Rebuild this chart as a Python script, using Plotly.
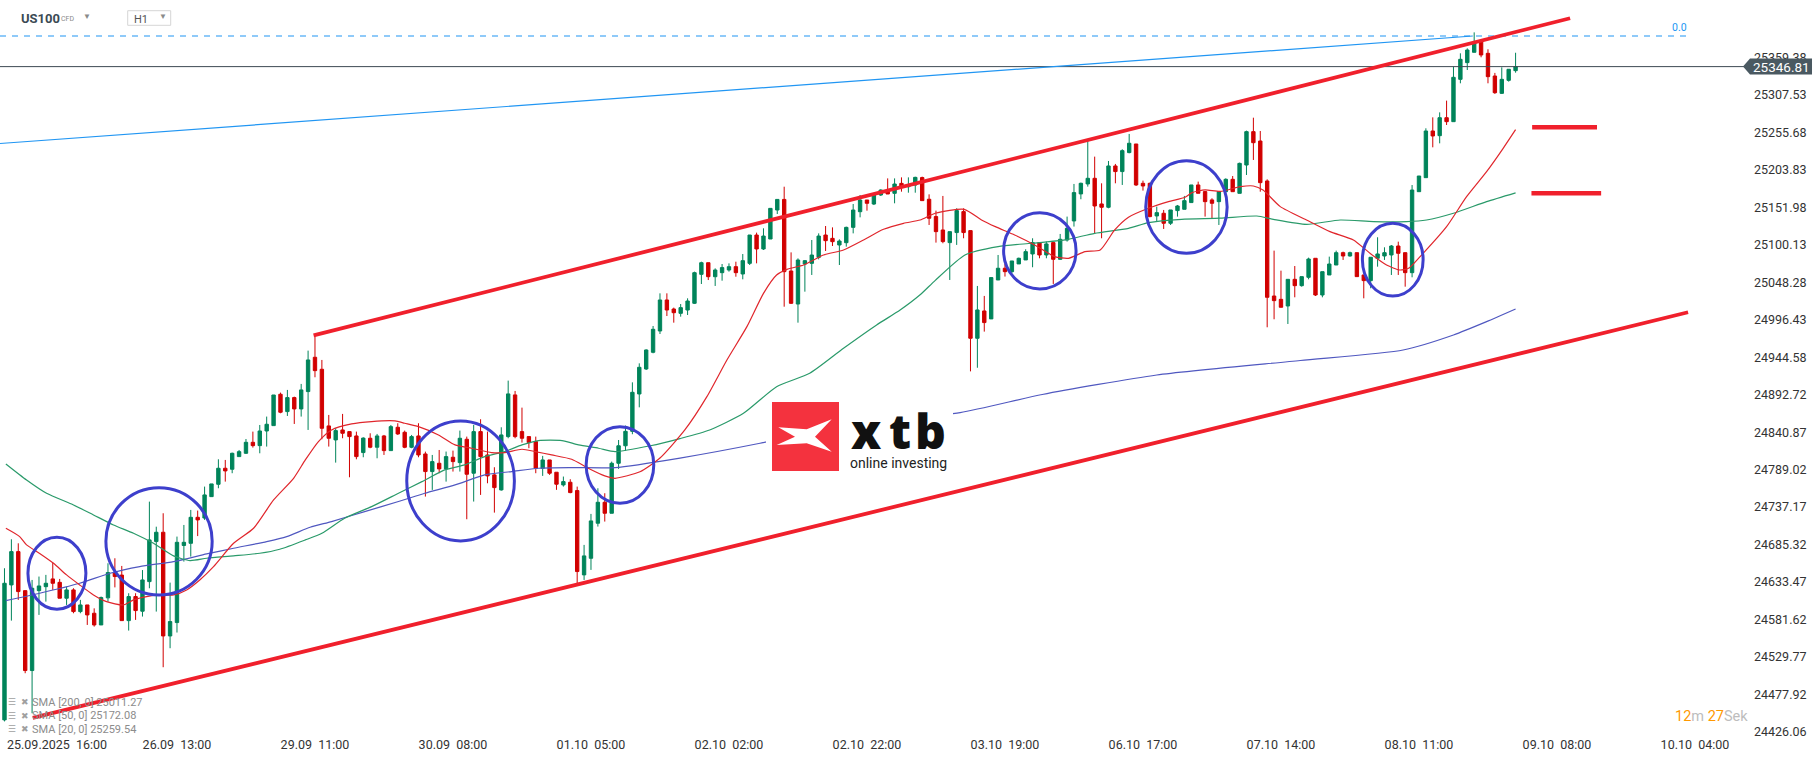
import plotly.graph_objects as go

# ---------------- data (hourly bars, index 0 = 25.09.2025 16:00) ----------------
bar_index = list(range(-5, 215))
opens = [24442.6, 24629.4, 24675.5, 24621.5, 24510.9,
         24621.5, 24627.0, 24637.7, 24633.0, 24611.0, 24622.5, 24592.5, 24601.7, 24590.2, 24574.0,
         24611.5, 24646.5, 24643.0, 24580.0, 24613.3, 24593.0, 24634.0, 24689.4, 24702.3, 24558.8,
         24577.3, 24684.0, 24687.0, 24723.0, 24722.0, 24751.6, 24768.7, 24790.9, 24789.5, 24807.0,
         24811.6, 24826.8, 24822.2, 24842.5, 24849.9, 24893.3, 24869.3, 24888.7, 24873.0, 24897.0,
         24944.5, 24927.9, 24849.5, 24830.1, 24843.9, 24841.6, 24835.6, 24812.6, 24832.4, 24820.0,
         24835.6, 24815.3, 24847.6, 24840.7, 24819.9, 24835.6, 24810.7, 24786.3, 24797.8, 24790.0,
         24806.1, 24798.7, 24831.0, 24784.0, 24841.6, 24809.3, 24781.7, 24760.9, 24834.7, 24892.4,
         24841.6, 24834.7, 24827.8, 24790.9, 24802.4, 24785.4, 24767.8, 24771.5, 24760.0, 24643.3,
         24666.3, 24714.8, 24743.8, 24728.6, 24797.8, 24822.0, 24842.0, 24893.7, 24928.3, 24951.4,
         24980.9, 25023.8, 25011.3, 25005.3, 25009.9, 25019.2, 25059.3, 25075.4, 25056.0, 25061.6,
         25065.3, 25069.9, 25059.8, 25074.5, 25113.7, 25094.4, 25108.2, 25148.3, 25163.0, 25063.9,
         25018.2, 25073.6, 25074.5, 25082.8, 25113.7, 25109.1, 25099.9, 25103.1, 25124.3, 25146.0,
         25162.2, 25156.6, 25169.1, 25176.0, 25171.4, 25185.2, 25180.6, 25182.9, 25193.2, 25163.2,
         25139.2, 25120.7, 25103.2, 25117.1, 25146.1, 25119.8, 24970.8, 25008.6, 24997.6, 25051.5,
         25067.7, 25063.0, 25073.7, 25079.2, 25087.5, 25103.2, 25086.1, 25103.2, 25080.1, 25106.8,
         25133.2, 25170.6, 25184.4, 25192.2, 25156.7, 25152.1, 25209.3, 25201.5, 25227.8, 25239.7,
         25185.3, 25185.3, 25140.1, 25143.8, 25130.0, 25147.5, 25149.3, 25158.6, 25183.0, 25173.8,
         25162.3, 25159.9, 25173.7, 25190.8, 25171.4, 25210.6, 25256.8, 25243.8, 25188.5, 25029.3,
         25024.7, 25015.5, 25052.4, 25043.6, 25055.2, 25081.5, 25030.7, 25058.4, 25072.2, 25089.3,
         25084.7, 25089.3, 25058.4, 25050.6, 25081.5, 25084.7, 25086.1, 25098.5, 25089.3, 25061.6,
         25173.7, 25193.1, 25257.7, 25251.2, 25276.1, 25270.6, 25329.2, 25352.3, 25366.6, 25381.3,
         25365.2, 25333.8, 25309.8, 25327.8, 25341.2]
highs = [24652.5, 24692.6, 24687.0, 24621.5, 24636.3,
         24641.0, 24643.3, 24660.3, 24637.7, 24627.0, 24624.8, 24608.7, 24601.7, 24597.0, 24613.3,
         24659.4, 24666.3, 24655.7, 24617.9, 24617.9, 24650.0, 24744.7, 24710.0, 24728.6, 24632.6,
         24696.3, 24712.4, 24733.2, 24732.3, 24765.5, 24769.2, 24803.3, 24802.4, 24812.5, 24816.2,
         24831.4, 24841.6, 24850.8, 24862.4, 24892.3, 24895.6, 24899.3, 24890.0, 24907.6, 24953.7,
         24974.0, 24940.8, 24864.7, 24846.2, 24866.1, 24841.6, 24841.6, 24833.8, 24839.3, 24838.4,
         24837.0, 24850.8, 24853.2, 24843.0, 24837.0, 24853.2, 24813.9, 24809.3, 24816.2, 24814.0,
         24815.3, 24843.0, 24834.7, 24850.8, 24858.7, 24841.6, 24792.3, 24847.6, 24912.2, 24897.9,
         24874.8, 24834.7, 24834.7, 24808.0, 24802.4, 24785.4, 24779.4, 24775.7, 24765.5, 24684.8,
         24727.7, 24763.2, 24756.3, 24800.1, 24830.0, 24850.0, 24909.8, 24936.1, 24955.5, 24987.8,
         25033.0, 25033.0, 25013.2, 25018.2, 25026.1, 25063.0, 25076.8, 25075.4, 25067.6, 25073.6,
         25074.5, 25076.8, 25087.4, 25113.7, 25117.0, 25123.0, 25150.6, 25163.0, 25180.6, 25089.7,
         25081.4, 25079.1, 25106.8, 25116.0, 25126.2, 25124.3, 25107.7, 25125.3, 25156.6, 25169.1,
         25162.2, 25171.4, 25177.0, 25192.1, 25192.1, 25193.5, 25193.5, 25194.4, 25194.5, 25170.0,
         25147.5, 25167.8, 25118.4, 25150.7, 25150.7, 25119.8, 25043.2, 25029.4, 25054.8, 25086.1,
         25073.7, 25077.8, 25082.4, 25094.0, 25109.2, 25103.2, 25104.6, 25103.2, 25115.2, 25139.2,
         25184.4, 25186.2, 25244.4, 25222.2, 25185.3, 25216.2, 25212.1, 25232.4, 25253.6, 25239.7,
         25189.0, 25186.2, 25153.0, 25148.4, 25148.4, 25155.3, 25167.8, 25183.0, 25187.6, 25174.7,
         25164.6, 25174.7, 25192.2, 25195.4, 25213.9, 25258.2, 25276.1, 25257.7, 25190.8, 25092.1,
         25064.4, 25052.4, 25070.8, 25056.1, 25082.4, 25081.5, 25063.0, 25083.8, 25092.1, 25090.7,
         25090.7, 25089.3, 25058.4, 25082.9, 25110.6, 25096.7, 25099.9, 25104.5, 25089.3, 25182.9,
         25195.4, 25261.4, 25276.6, 25283.5, 25299.7, 25346.7, 25365.2, 25372.1, 25394.2, 25383.0,
         25370.8, 25338.1, 25345.8, 25343.1, 25366.0]
lows = [24440.5, 24580.0, 24608.7, 24507.2, 24451.8,
        24587.9, 24606.3, 24622.5, 24611.0, 24601.7, 24590.2, 24590.2, 24574.0, 24571.7, 24574.0,
        24606.3, 24626.0, 24580.0, 24566.2, 24581.0, 24585.6, 24624.8, 24592.5, 24515.5, 24541.8,
        24563.5, 24661.7, 24668.6, 24697.0, 24719.4, 24751.6, 24763.2, 24772.4, 24784.0, 24807.0,
        24810.7, 24819.5, 24811.6, 24820.9, 24849.9, 24867.0, 24863.3, 24852.2, 24862.4, 24843.9,
        24916.8, 24831.0, 24820.9, 24798.7, 24832.4, 24778.4, 24803.3, 24806.1, 24818.6, 24804.7,
        24809.3, 24815.3, 24837.0, 24818.6, 24818.6, 24806.1, 24751.7, 24760.9, 24784.0, 24772.4,
        24786.3, 24786.3, 24720.3, 24744.8, 24754.0, 24770.1, 24729.5, 24759.9, 24832.4, 24832.4,
        24826.4, 24818.6, 24784.0, 24780.3, 24781.7, 24761.0, 24765.5, 24756.3, 24631.7, 24636.3,
        24650.2, 24710.2, 24717.1, 24728.6, 24790.0, 24815.0, 24838.0, 24875.2, 24926.9, 24950.0,
        24976.7, 25001.6, 24992.4, 25000.7, 25003.0, 25018.2, 25045.9, 25051.4, 25043.2, 25050.5,
        25063.0, 25056.0, 25052.4, 25072.2, 25074.5, 25093.0, 25108.2, 25142.8, 25014.5, 25018.2,
        24992.4, 25035.3, 25058.4, 25080.0, 25091.6, 25098.5, 25072.2, 25097.6, 25116.0, 25138.2,
        25147.4, 25155.2, 25167.7, 25170.5, 25157.6, 25173.7, 25172.3, 25172.3, 25161.3, 25127.6,
        25103.2, 25102.3, 25051.5, 25100.0, 25109.2, 24925.0, 24930.0, 24980.0, 24997.6, 25051.5,
        25056.2, 25060.8, 25073.7, 25079.2, 25069.1, 25081.5, 25081.5, 25046.0, 25079.2, 25104.6,
        25125.4, 25163.2, 25180.7, 25116.1, 25109.2, 25150.7, 25185.3, 25183.0, 25226.8, 25181.6,
        25175.2, 25138.3, 25132.3, 25122.1, 25127.6, 25139.2, 25149.3, 25158.6, 25171.5, 25139.2,
        25136.9, 25127.6, 25173.0, 25173.7, 25171.4, 25196.8, 25217.6, 25173.7, 24986.0, 24997.1,
        25013.7, 24990.6, 25027.5, 25042.2, 25052.4, 25029.3, 25027.5, 25058.4, 25072.2, 25079.2,
        25083.8, 25056.1, 25026.1, 25040.0, 25069.9, 25079.2, 25058.4, 25058.4, 25042.2, 25055.2,
        25173.7, 25193.1, 25235.1, 25240.6, 25266.0, 25270.6, 25323.7, 25342.1, 25366.6, 25359.7,
        25323.7, 25309.0, 25308.9, 25326.0, 25338.4]
closes = [24631.7, 24675.5, 24620.2, 24510.9, 24624.8,
          24628.0, 24631.7, 24631.7, 24611.0, 24622.5, 24592.5, 24601.7, 24587.9, 24574.0, 24611.9,
          24646.5, 24641.0, 24580.0, 24613.3, 24593.9, 24636.3, 24691.7, 24702.3, 24558.8, 24578.7,
          24688.4, 24688.4, 24723.0, 24719.4, 24754.0, 24769.2, 24790.9, 24787.2, 24811.6, 24813.9,
          24826.8, 24822.2, 24842.5, 24851.8, 24892.3, 24868.4, 24888.7, 24873.0, 24899.3, 24940.8,
          24926.0, 24846.2, 24832.4, 24843.0, 24839.3, 24834.7, 24807.0, 24832.6, 24820.0, 24835.6,
          24815.3, 24848.5, 24838.4, 24819.9, 24834.7, 24809.3, 24786.3, 24800.1, 24790.0, 24807.0,
          24800.1, 24832.4, 24782.6, 24841.6, 24807.0, 24780.3, 24764.1, 24837.0, 24893.8, 24834.7,
          24832.4, 24826.4, 24790.9, 24802.4, 24784.0, 24768.8, 24772.4, 24757.2, 24647.9, 24669.6,
          24718.0, 24743.8, 24728.6, 24797.8, 24822.0, 24842.0, 24896.0, 24930.6, 24954.6, 24983.2,
          25023.8, 25009.9, 25006.2, 25013.2, 25022.4, 25061.6, 25075.4, 25056.0, 25065.3, 25068.6,
          25069.9, 25061.6, 25078.2, 25113.7, 25094.4, 25112.3, 25150.6, 25163.0, 25063.0, 25019.2,
          25079.1, 25078.2, 25086.0, 25112.3, 25105.9, 25104.5, 25105.4, 25124.3, 25148.3, 25162.2,
          25157.6, 25170.0, 25176.0, 25170.5, 25184.3, 25179.7, 25183.0, 25193.5, 25161.3, 25136.9,
          25118.4, 25104.6, 25118.4, 25147.5, 25117.1, 24970.8, 25010.0, 24992.5, 25054.8, 25067.7,
          25063.0, 25077.8, 25081.5, 25090.7, 25103.2, 25086.1, 25101.4, 25080.1, 25107.8, 25123.0,
          25172.4, 25185.3, 25192.2, 25153.9, 25152.1, 25209.3, 25201.5, 25230.5, 25240.7, 25183.0,
          25181.6, 25139.2, 25144.7, 25130.0, 25148.4, 25153.9, 25161.3, 25183.0, 25171.5, 25159.9,
          25157.6, 25173.8, 25190.8, 25173.7, 25212.9, 25256.8, 25241.5, 25186.2, 25027.5, 25022.9,
          25013.7, 25052.4, 25043.6, 25056.1, 25080.5, 25030.7, 25063.0, 25073.6, 25089.3, 25084.7,
          25089.3, 25056.1, 25050.6, 25082.9, 25087.5, 25089.3, 25098.5, 25088.4, 25061.6, 25176.0,
          25195.4, 25257.7, 25250.8, 25276.1, 25270.6, 25332.0, 25356.9, 25369.8, 25379.9, 25362.9,
          25332.9, 25310.7, 25329.2, 25343.1, 25346.81]

# moving averages (bar index, value)
sma20_x = [-4.8, -2.8, -1.8, 0.1, 2.1, 4.0, 5.9, 7.9, 9.8, 12.2, 13.7, 15.6, 17.5, 19.5, 21.4, 23.3, 25.3,
           28.2, 31.1, 34.0, 36.9, 38.6, 40.5, 42.4, 45.3, 48.2, 51.6, 53.0, 55.0, 57.9, 60.3, 62.7, 65.6,
           67.5, 70.0, 71.9, 74.3, 77.2, 79.6, 82.0, 83.5, 87.1, 90.0, 93.6, 96.8, 99.7, 102.6, 105.0,
           106.9, 108.4, 110.8, 113.7, 116.6, 119.5, 122.4, 125.3, 127.7, 129.9, 134.1, 136.6, 138.6,
           141.4, 144.3, 147.2, 149.2, 151.6, 153.8, 155.9, 157.9, 160.8, 163.7, 166.1, 167.1, 169.0,
           171.2, 174.1, 176.0, 177.4, 179.9, 183.7, 187.1, 190.5, 192.9, 195.3, 197.2, 198.5, 200.6,
           204.0, 206.9, 209.8, 212.2, 214.0]
sma20_y = [24707.8, 24696.3, 24684.8, 24673.0, 24659.4, 24643.3, 24629.4, 24615.6, 24606.3, 24601.7,
           24608.7, 24613.3, 24615.6, 24615.6, 24622.5, 24636.3, 24654.8, 24687.0, 24707.8, 24747.0,
           24777.0, 24802.4, 24827.8, 24843.9, 24852.2, 24855.5, 24856.4, 24853.2, 24848.5, 24837.0,
           24823.2, 24818.6, 24812.6, 24812.6, 24817.2, 24814.0, 24809.3, 24803.3, 24790.9, 24780.3,
           24777.0, 24786.0, 24805.0, 24843.9, 24890.0, 24940.7, 24986.9, 25033.0, 25058.4, 25066.2,
           25072.2, 25086.0, 25093.0, 25106.8, 25121.6, 25129.9, 25134.5, 25143.8, 25149.3, 25134.6,
           25125.3, 25113.8, 25100.0, 25083.8, 25081.5, 25090.7, 25093.0, 25120.7, 25138.3, 25150.7,
           25159.9, 25165.9, 25172.4, 25176.1, 25174.0, 25180.6, 25181.6, 25176.0, 25153.0, 25134.5,
           25118.4, 25106.8, 25088.4, 25072.2, 25065.3, 25067.6, 25088.4, 25125.3, 25166.8, 25201.4,
           25233.7, 25259.54]
sma50_x = [-4.8, -1.8, 1.1, 5.0, 7.9, 10.8, 13.7, 16.6, 19.5, 21.9, 24.3, 28.2, 32.0, 34.9, 38.6, 41.0,
           44.3, 48.2, 52.1, 55.5, 58.8, 61.7, 64.6, 67.5, 70.0, 72.4, 75.8, 78.2, 81.1, 83.5, 88.6, 92.9,
           97.2, 102.1, 106.9, 111.7, 116.6, 121.4, 124.8, 127.7, 129.9, 134.2, 139.0, 143.9, 148.7,
           153.0, 157.9, 160.8, 165.6, 171.2, 176.5, 178.9, 183.7, 188.6, 193.4, 198.2, 201.1, 205.0,
           209.8, 214.0]
sma50_y = [24796.9, 24774.7, 24756.3, 24740.1, 24726.3, 24712.4, 24700.9, 24687.0, 24669.6, 24663.1,
           24666.3, 24669.6, 24673.2, 24678.8, 24691.7, 24700.9, 24721.7, 24737.8, 24756.3, 24772.4,
           24788.6, 24795.5, 24807.0, 24814.0, 24823.2, 24829.2, 24829.2, 24823.2, 24818.6, 24814.0,
           24822.0, 24832.0, 24843.9, 24867.0, 24903.8, 24922.3, 24956.9, 24989.2, 25009.9, 25031.0,
           25051.0, 25086.1, 25097.7, 25102.3, 25106.9, 25116.1, 25123.0, 25130.9, 25135.5, 25137.0,
           25140.0, 25135.4, 25128.5, 25134.5, 25132.2, 25132.2, 25134.5, 25143.8, 25159.9, 25172.08]
sma200_x = [-4.8, 0.1, 5.9, 10.3, 14.6, 19.5, 24.3, 28.2, 33.0, 35.9, 39.3, 42.4, 47.2, 52.1, 55.9, 60.3,
            64.6, 68.5, 72.4, 77.2, 83.5, 92.9, 104.5, 117.5, 133.5, 145.4, 162.0, 182.8, 197.7, 205.0,
            209.8, 214.0]
sma200_y = [24607.7, 24617.9, 24631.7, 24645.6, 24654.8, 24661.7, 24672.3, 24680.2, 24689.4, 24696.3,
            24709.2, 24717.1, 24730.9, 24744.8, 24756.3, 24767.8, 24781.7, 24786.3, 24790.9, 24791.8,
            24791.8, 24805.0, 24825.5, 24852.0, 24868.0, 24893.0, 24920.0, 24940.0, 24954.6, 24975.4,
            24993.8, 25011.27]

legend_rows = ["SMA [200, 0] 25011.27", "SMA [50, 0] 25172.08", "SMA [20, 0] 25259.54"]

x_tick_idx = [20, 40, 60, 80, 100, 120, 140, 160, 180, 200, 220, 240]
x_tick_text = ["26.09  13:00", "29.09  11:00", "30.09  08:00", "01.10  05:00", "02.10  02:00",
               "02.10  22:00", "03.10  19:00", "06.10  17:00", "07.10  14:00", "08.10  11:00",
               "09.10  08:00", "10.10  04:00"]
first_x_label = "25.09.2025  16:00"
y_tick_vals = [24426.06, 24477.92, 24529.77, 24581.62, 24633.47, 24685.32, 24737.17, 24789.02,
               24840.87, 24892.72, 24944.58, 24996.43, 25048.28, 25100.13, 25151.98, 25203.83,
               25255.68, 25307.53, 25359.38]

last_price = 25346.81
fib_level = 25389.2
upper_channel = [(39.8, 24974.7), (221.9, 25413.7)]
lower_channel = [(-0.9, 24445.3), (239.0, 25006.8)]
fib_trend = [(-5.65, 25240.4), (207.8, 25389.2)]
target_levels = [(216.4, 225.8, 25262.8), (216.3, 226.4, 25171.5)]
circles = [(-1.6, 6.8, 24595.7, 24695.4), (9.7, 25.1, 24615.5, 24764.0), (53.3, 68.9, 24690.3, 24856.3),
           (79.3, 89.1, 24742.4, 24848.5), (139.8, 150.3, 25039.0, 25144.6), (160.4, 172.2, 25088.4, 25216.6),
           (191.8, 200.6, 25029.3, 25129.9)]

# ---------------- styling ----------------
W, H = 1815, 761
ML, MR, MT, MB = 0, 70, 0, 26
PW, PH = W - ML - MR, H - MT - MB
GREEN, RED = "#00845a", "#d10000"
FONT = "Roboto"
NB = "\u00a0"


def px(x):
    return x / PW


def py(y):
    return 1 - y / PH


fig = go.Figure()
fig.add_trace(go.Candlestick(
    x=bar_index, open=opens, high=highs, low=lows, close=closes,
    increasing=dict(line=dict(color=GREEN, width=1), fillcolor=GREEN),
    decreasing=dict(line=dict(color=RED, width=1), fillcolor=RED),
    whiskerwidth=0, showlegend=False, hoverinfo="skip"))
fig.add_trace(go.Scatter(x=sma200_x, y=sma200_y, mode="lines", line=dict(color="#5058c0", width=1.2, shape="spline", smoothing=0.6),
                         showlegend=False, hoverinfo="skip"))
fig.add_trace(go.Scatter(x=sma50_x, y=sma50_y, mode="lines", line=dict(color="#2a9a6a", width=1.2, shape="spline", smoothing=0.6),
                         showlegend=False, hoverinfo="skip"))
fig.add_trace(go.Scatter(x=sma20_x, y=sma20_y, mode="lines", line=dict(color="#e0262c", width=1.2, shape="spline", smoothing=0.6),
                         showlegend=False, hoverinfo="skip"))

shapes = []
# last price line
shapes.append(dict(type="line", xref="paper", yref="y", x0=0, x1=1, y0=last_price, y1=last_price,
                   line=dict(color="#3d4a52", width=1)))
# fib 0.0 dashed level
shapes.append(dict(type="line", xref="x", yref="y", x0=-5.65, x1=239.3, y0=fib_level, y1=fib_level,
                   line=dict(color="#2196f3", width=1.2, dash="6px,6px")))
# fib trend line
shapes.append(dict(type="line", xref="x", yref="y", x0=fib_trend[0][0], y0=fib_trend[0][1],
                   x1=fib_trend[1][0], y1=fib_trend[1][1], line=dict(color="#2196f3", width=1.2)))
# channel
for a, b in (upper_channel, lower_channel):
    shapes.append(dict(type="line", xref="x", yref="y", x0=a[0], y0=a[1], x1=b[0], y1=b[1],
                       line=dict(color="#f0202c", width=3.8)))
# targets
for x0, x1, lv in target_levels:
    shapes.append(dict(type="line", xref="x", yref="y", x0=x0, x1=x1, y0=lv, y1=lv,
                       line=dict(color="#f0202c", width=4.5)))
# circles
for x0, x1, y0, y1 in circles:
    shapes.append(dict(type="circle", xref="x", yref="y", x0=x0, x1=x1, y0=y0, y1=y1,
                       line=dict(color="#3d3fcc", width=3)))
# logo
shapes.append(dict(type="rect", xref="paper", yref="paper", x0=px(766), x1=px(953), y0=py(474), y1=py(398),
                   fillcolor="white", line=dict(width=0)))
shapes.append(dict(type="rect", xref="paper", yref="paper", x0=px(772), x1=px(839), y0=py(471), y1=py(402),
                   fillcolor="#f4323e", line=dict(width=0)))
xpts = [(778.3, 427.3), (806.7, 429.3), (831.7, 419.3), (815, 436.7), (831.7, 451.7), (806.7, 443.3),
        (776.7, 445), (795, 436.7)]
path = "M " + " L ".join(f"{px(a):.5f},{py(b):.5f}" for a, b in xpts) + " Z"
shapes.append(dict(type="path", xref="paper", yref="paper", path=path, fillcolor="white", line=dict(width=0)))
# price tag
tag = [(1743, 66.6), (1750, 58.6), (1812, 58.6), (1812, 74.6), (1750, 74.6)]
path = "M " + " L ".join(f"{px(a):.5f},{py(b):.5f}" for a, b in tag) + " Z"
shapes.append(dict(type="path", xref="paper", yref="paper", path=path, fillcolor="#4a5961", line=dict(width=0)))
# H1 box
shapes.append(dict(type="rect", xref="paper", yref="paper", x0=px(127.7), x1=px(170.7), y0=py(25.3), y1=py(10.7),
                   fillcolor="white", line=dict(color="#d6d6d6", width=1)))

ann = []


def A(x, y, text, size, color, xanchor="left", bold=False, xref="paper", yref="paper", family=FONT,
      weight=None, yanchor="middle", **kw):
    font = dict(family=family, size=size, color=color)
    if weight:
        font["weight"] = weight
    ann.append(dict(x=x, y=y, xref=xref, yref=yref, text=f"<b>{text}</b>" if bold else text,
                    showarrow=False, xanchor=xanchor, yanchor=yanchor, font=font, **kw))


A(px(1781), py(66.6), "25346.81", 13.5, "white", xanchor="center")
A(237.7, 25401.2, "0.0", 10.5, "#2196f3", xanchor="center", xref="x", yref="y")
A(px(5), py(744), first_x_label.replace(" ", NB), 12.5, "#333333")
# header
A(px(19), py(18.5), "US100", 13, "#3b4a54", bold=True)
A(px(59), py(19.5), "CFD", 7, "#8a8a8a")
A(px(86.5), py(17), "▼", 8, "#8a8a8a", xanchor="center")
A(px(132), py(19), "H1", 11, "#555555")
A(px(162.5), py(17), "▼", 8, "#8a8a8a", xanchor="center")
# logo text
A(px(866), py(430), "x", 48, "#111111", xanchor="center", family="Open Sans", weight=800, borderpad=0)
A(px(900), py(430), "t", 48, "#111111", xanchor="center", family="Open Sans", weight=800, borderpad=0)
A(px(930), py(430), "b", 48, "#111111", xanchor="center", family="Open Sans", weight=800, borderpad=0)
A(px(849), py(454), "online investing", 14, "#222222", yanchor="top", borderpad=0)
# countdown
A(px(1673), py(716),
  "<span style='color:#ff9800'>12</span><span style='color:#bdbdbd'>m </span>"
  "<span style='color:#ff9800'>27</span><span style='color:#bdbdbd'>Sek</span>", 14.5, "#bdbdbd")
# indicator legend
for i, row in enumerate(legend_rows):
    yy = 702 + 13.5 * i
    A(px(6), py(yy), "☰", 9, "#a0a0a0")
    A(px(19), py(yy), "✖", 9, "#a0a0a0")
    A(px(30), py(yy), row, 11, "#8c8c8c")

fig.update_layout(
    width=W, height=H, margin=dict(l=ML, r=MR, t=MT, b=MB, pad=0),
    plot_bgcolor="white", paper_bgcolor="white",
    font=dict(family=FONT, size=12.5, color="#333333"),
    showlegend=False, hovermode=False,
    shapes=shapes, annotations=ann,
    xaxis=dict(range=[-5.65, 247.25], showgrid=False, zeroline=False, showline=False,
               tickmode="array", tickvals=x_tick_idx, ticktext=[t.replace(" ", NB) for t in x_tick_text],
               ticks="", tickfont=dict(size=12.5, color="#333333"),
               rangeslider=dict(visible=False), fixedrange=True),
    yaxis=dict(range=[25439.0 - 1.3841 * PH, 25439.0], side="right", showgrid=False, zeroline=False,
               showline=False, tickmode="array", tickvals=y_tick_vals,
               ticktext=[f"{v:.2f}" for v in y_tick_vals], ticks="", ticklabelstandoff=8,
               tickfont=dict(size=12.5, color="#333333"), fixedrange=True),
)

fig.write_html("out.html", config={"displayModeBar": False},
               post_script="document.body.style.margin='0';")
